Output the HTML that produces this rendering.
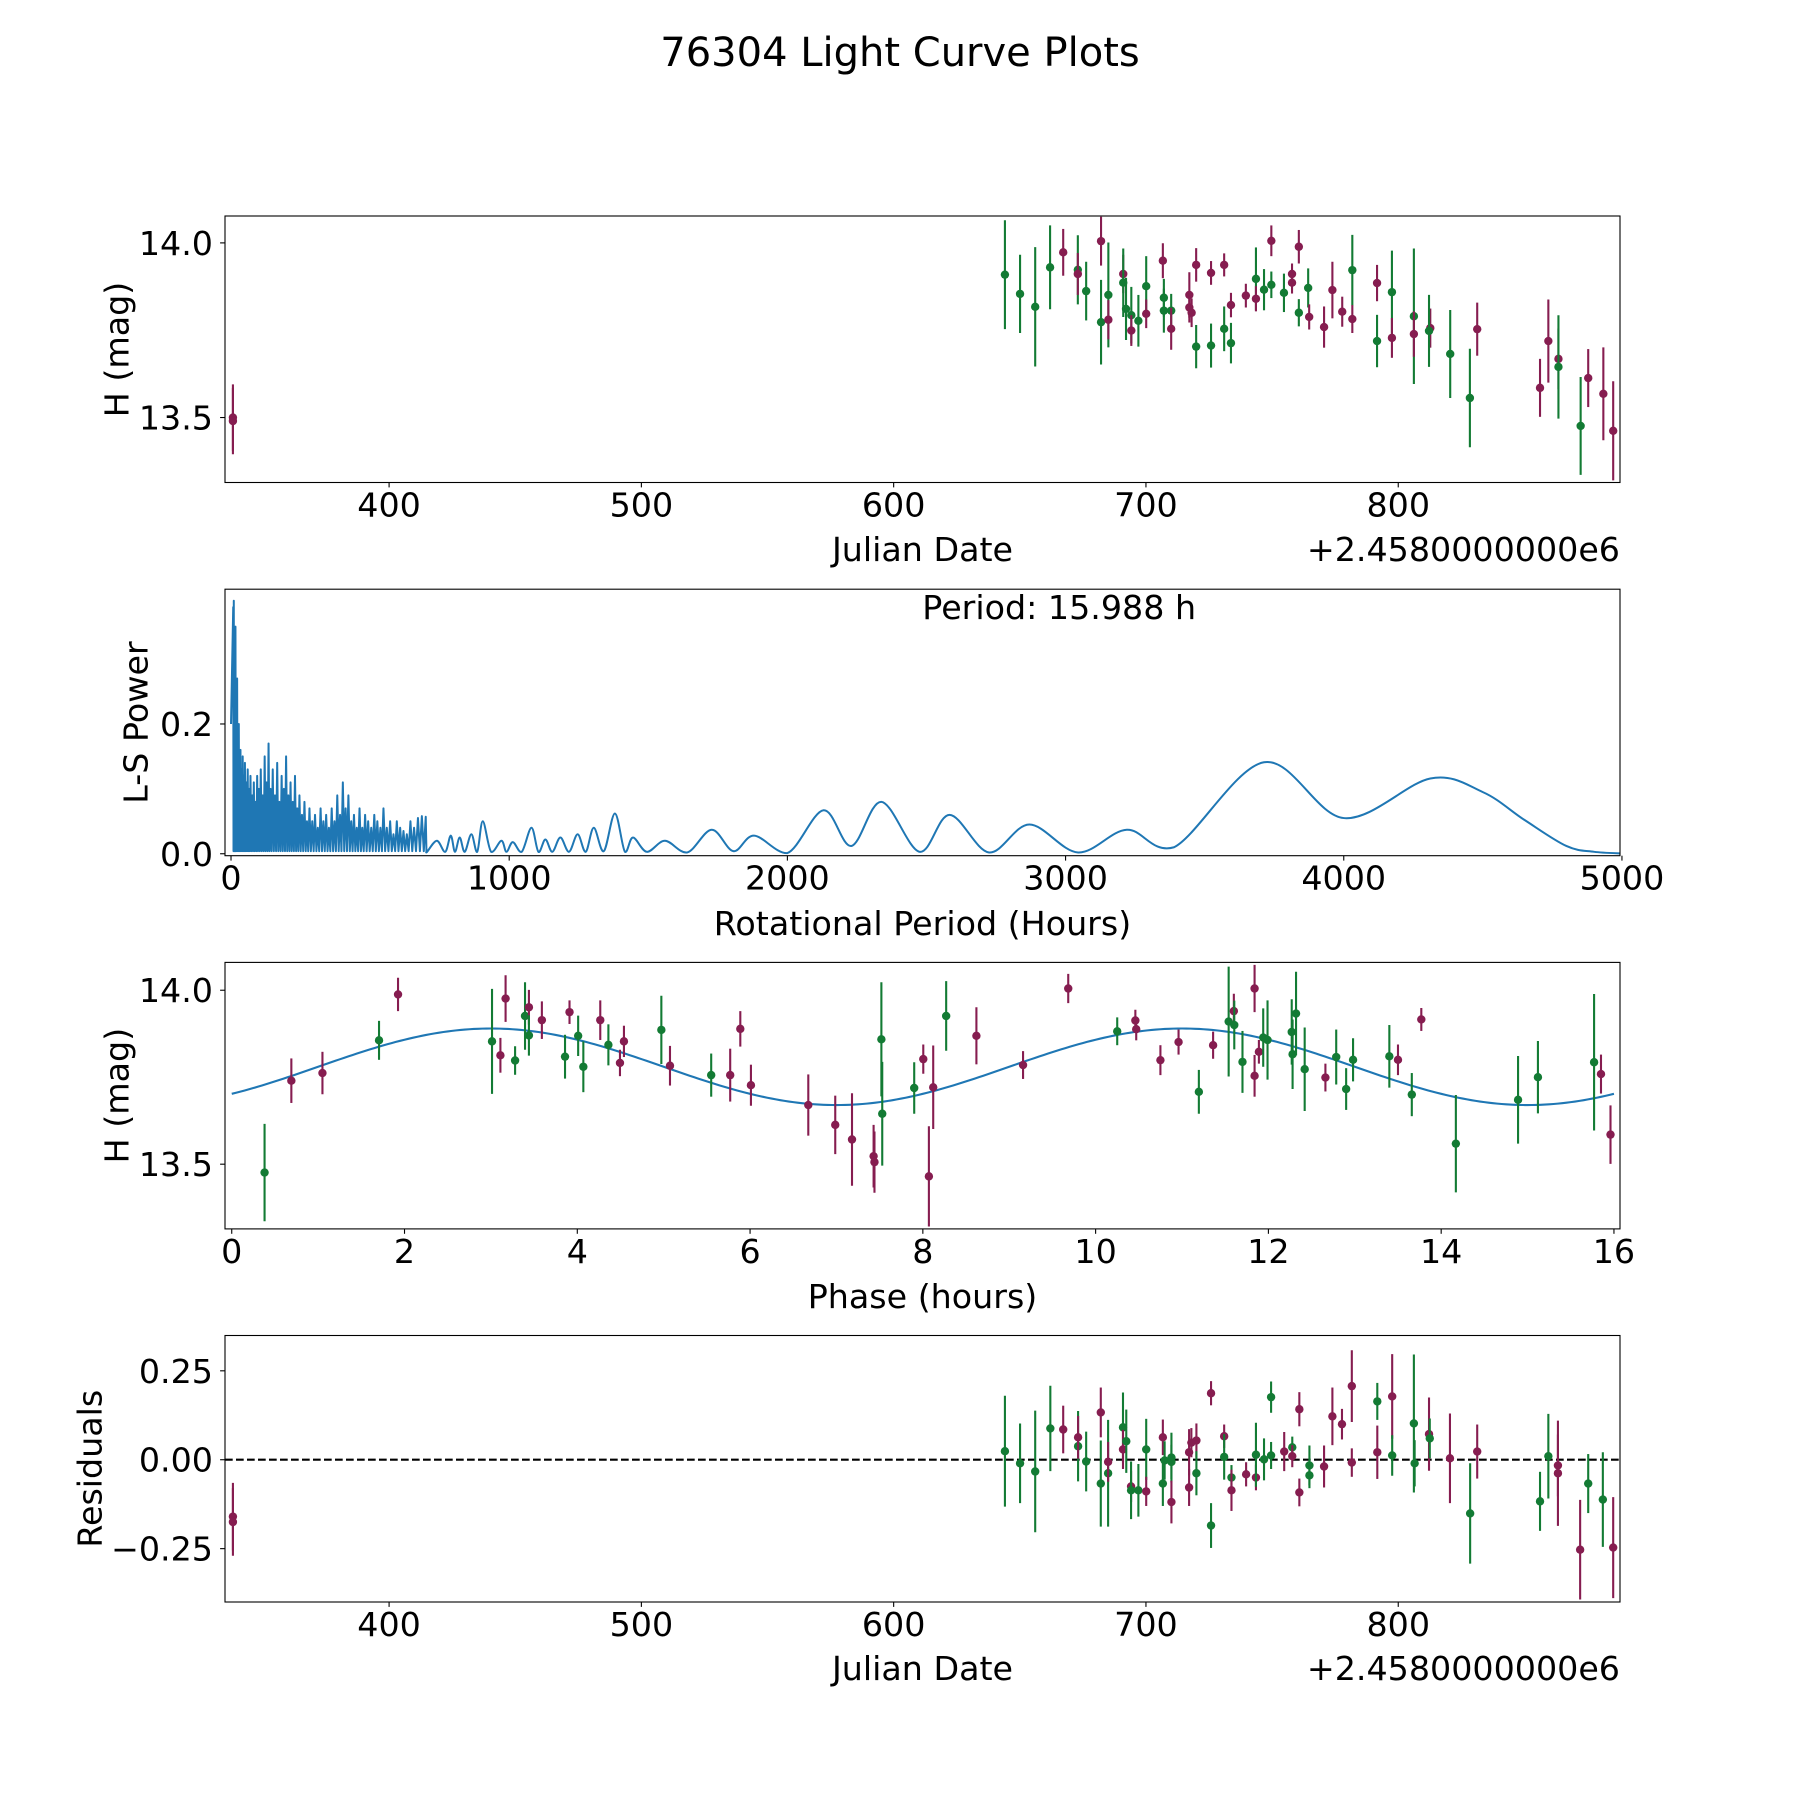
<!DOCTYPE html>
<html><head><meta charset="utf-8"><title>76304 Light Curve Plots</title>
<style>
html,body{margin:0;padding:0;background:#fff;}
svg{display:block;font-family:"DejaVu Sans","Liberation Sans",sans-serif;}
</style></head>
<body>
<svg id="fig" xmlns="http://www.w3.org/2000/svg" width="1800" height="1800" viewBox="0 0 1800 1800">
<rect x="0" y="0" width="1800" height="1800" fill="#fff"/>
<text x="900" y="66" font-size="40" text-anchor="middle" fill="#000">76304 Light Curve Plots</text>
</svg>
<script>
// ---------- Panel 1: light curve (Julian Date) ----------
const lcJD  = [338.1,338.1,644.1,650.1,656.1,662.0,667.2,673.0,673.0,676.3,682.2,682.2,685.1,685.1,691.0,691.0,692.1,694.2,694.2,697.0,700.1,700.1,706.7,707.1,707.1,710.0,710.0,717.2,717.2,718.1,719.9,719.9,725.8,725.8,731.0,731.0,733.7,733.7,739.6,743.6,743.6,746.8,749.7,749.7,754.7,757.9,757.9,760.6,760.6,764.3,764.7,770.6,773.9,777.8,781.8,781.8,791.6,791.6,797.5,797.5,806.2,806.2,812.7,812.2,820.6,828.4,831.3,856.2,859.5,863.5,863.5,872.3,875.3,881.3,885.2];
const lcMag = [13.500,13.490,13.909,13.854,13.817,13.930,13.973,13.923,13.911,13.862,14.005,13.773,13.851,13.780,13.911,13.886,13.811,13.793,13.749,13.777,13.876,13.797,13.949,13.843,13.806,13.806,13.754,13.851,13.815,13.800,13.937,13.703,13.914,13.706,13.937,13.754,13.822,13.713,13.849,13.897,13.840,13.866,14.006,13.880,13.857,13.911,13.886,13.989,13.800,13.871,13.788,13.759,13.865,13.803,13.922,13.782,13.885,13.719,13.859,13.728,13.790,13.739,13.756,13.748,13.682,13.556,13.753,13.585,13.719,13.668,13.645,13.476,13.613,13.568,13.462];
const lcErr = [0.095,0.095,0.156,0.112,0.171,0.120,0.067,0.099,0.060,0.084,0.070,0.121,0.150,0.056,0.055,0.098,0.089,0.081,0.044,0.074,0.086,0.041,0.050,0.054,0.063,0.048,0.060,0.065,0.043,0.041,0.048,0.062,0.034,0.063,0.033,0.064,0.035,0.058,0.034,0.090,0.036,0.059,0.044,0.038,0.055,0.030,0.031,0.048,0.039,0.056,0.036,0.059,0.081,0.043,0.101,0.040,0.052,0.075,0.119,0.057,0.194,0.065,0.056,0.103,0.126,0.141,0.076,0.083,0.119,0.087,0.148,0.140,0.083,0.133,0.142];
const lcCol = "PPGGGGPGPGPGGPPGGGPGGPPGGGPPPPPGPGPGPGPGPGPGGPPPGGPPPPGPPGGPGPPGGGPPPPGGPPP";

// ---------- Panel 2: Lomb-Scargle periodogram ----------
const lsSpikePeriod = [8,10,12,14,16,19,22,25,28,31,34,38,42,46,50,55,60,65,70,76,82,88,94,100,107,114,121,128,135,142,150,158,166,174,182,190,198,206,214,222,230,238,246,255,264,273,282,292,302,312,322,332,342,352,362,372,382,392,402,412,422,432,442,452,462,472,482,493,504,515,526,537,548,560,572,584,596,608,620,632,645,658,672,686,700];
const lsSpikePower  = [0.38,0.39,0.30,0.25,0.35,0.22,0.27,0.18,0.20,0.15,0.16,0.13,0.15,0.12,0.14,0.11,0.13,0.10,0.12,0.09,0.11,0.08,0.12,0.10,0.13,0.09,0.15,0.11,0.17,0.10,0.13,0.09,0.14,0.08,0.12,0.10,0.15,0.09,0.11,0.08,0.12,0.07,0.09,0.06,0.08,0.05,0.07,0.05,0.06,0.04,0.07,0.05,0.06,0.04,0.07,0.05,0.09,0.06,0.11,0.07,0.09,0.05,0.06,0.04,0.07,0.04,0.06,0.05,0.04,0.06,0.05,0.04,0.07,0.04,0.05,0.03,0.05,0.04,0.035,0.03,0.05,0.04,0.055,0.058,0.057];
const lsPeriod = [705,740,770,790,805,822,840,864,885,905,935,972,990,1013,1045,1080,1105,1130,1155,1184,1215,1246,1275,1304,1340,1380,1416,1445,1495,1560,1640,1728,1806,1880,2000,2130,2230,2338,2475,2583,2725,2870,3045,3220,3390,3713,4000,4311,4500,4650,4800,4900,5000];
const lsPower  = [0.003,0.02,0.003,0.028,0.003,0.025,0.003,0.03,0.003,0.05,0.003,0.02,0.003,0.018,0.003,0.04,0.003,0.022,0.003,0.025,0.003,0.03,0.003,0.04,0.004,0.062,0.003,0.025,0.003,0.02,0.002,0.037,0.004,0.028,0.001,0.067,0.012,0.08,0.003,0.06,0.002,0.045,0.002,0.037,0.01,0.141,0.055,0.116,0.095,0.052,0.012,0.003,0.0005];
const bestPeriod = "15.988";

// ---------- Panel 3: phased light curve ----------
const phPhase = [0.38,0.69,1.05,1.705,1.925,3.013,3.11,3.17,3.28,3.395,3.44,3.44,3.59,3.858,3.91,4.01,4.07,4.266,4.36,4.494,4.54,4.973,5.073,5.55,5.77,5.887,6.01,6.674,6.986,7.18,7.43,7.44,7.52,7.53,7.9,8.005,8.07,8.12,8.27,8.62,9.16,9.683,10.25,10.46,10.47,10.75,10.96,11.195,11.36,11.54,11.60,11.605,11.70,11.84,11.84,11.89,11.94,11.99,12.27,12.28,12.32,12.42,12.66,12.785,12.90,12.98,13.40,13.50,13.66,13.77,14.17,14.89,15.12,15.77,15.85,15.96];
const phMag = [13.476,13.740,13.762,13.856,13.988,13.853,13.813,13.976,13.798,13.926,13.951,13.870,13.914,13.809,13.937,13.869,13.780,13.914,13.843,13.791,13.853,13.886,13.783,13.756,13.756,13.889,13.727,13.670,13.613,13.571,13.523,13.506,13.859,13.645,13.719,13.802,13.465,13.721,13.926,13.869,13.785,14.005,13.882,13.913,13.888,13.799,13.851,13.708,13.842,13.910,13.940,13.900,13.794,14.005,13.754,13.823,13.864,13.857,13.880,13.816,13.933,13.773,13.749,13.808,13.716,13.800,13.810,13.800,13.700,13.916,13.559,13.685,13.750,13.793,13.759,13.585];
const phErr = [0.14,0.064,0.061,0.056,0.048,0.151,0.05,0.067,0.041,0.097,0.05,0.058,0.054,0.063,0.034,0.058,0.073,0.057,0.059,0.038,0.045,0.098,0.057,0.062,0.076,0.051,0.059,0.088,0.084,0.133,0.09,0.088,0.164,0.149,0.074,0.042,0.144,0.12,0.1,0.082,0.04,0.042,0.04,0.031,0.032,0.043,0.036,0.063,0.039,0.158,0.05,0.07,0.089,0.068,0.06,0.034,0.084,0.114,0.094,0.1,0.12,0.12,0.04,0.079,0.06,0.062,0.09,0.044,0.062,0.033,0.14,0.126,0.104,0.196,0.056,0.084];
const phCol = "GPPGPGPPGGPGPGPGGPGPPGPGPPPPPPPPGGGPPPGPPPGPPPPGPGPGGPPPGGGGGGPGGGGPGPGGGGPP";
const fitMean = 13.78, fitAmp = 0.11, fitPeakPhase = 3.0, fitHarmPeriod = 8.0;

// ---------- Panel 4: residuals ----------
const resJD  = [338.1,338.1,644.1,650.1,656.1,662.1,667.2,673.1,673.1,676.3,682.1,682.1,685.0,685.0,690.9,690.9,692.2,694.1,694.1,697.0,700.1,700.1,706.7,706.7,707.4,710.1,710.1,710.1,717.1,717.1,718.0,720.0,720.0,725.8,725.8,731.0,731.0,733.9,733.9,739.7,743.6,743.6,746.8,749.6,749.6,754.8,758.0,758.0,760.8,760.8,764.8,764.8,770.6,773.9,777.7,781.6,781.6,791.7,791.7,797.6,797.6,806.2,806.5,812.2,812.5,820.5,828.5,831.3,856.2,859.5,863.3,863.3,872.1,875.3,881.1,885.2];
const resVal = [-0.160,-0.175,0.024,-0.010,-0.033,0.088,0.085,0.038,0.063,-0.005,0.133,-0.067,-0.038,-0.006,0.091,0.029,0.052,-0.075,-0.086,-0.086,0.029,-0.089,0.063,-0.067,-0.002,0.006,-0.006,-0.119,0.021,-0.078,0.048,0.054,-0.038,0.187,-0.185,0.066,0.008,-0.050,-0.086,-0.041,-0.050,0.014,0.001,0.012,0.176,0.023,0.035,0.010,0.142,-0.092,-0.016,-0.044,-0.019,0.122,0.100,0.207,-0.008,0.164,0.021,0.178,0.012,0.102,-0.010,0.072,0.060,0.004,-0.151,0.023,-0.117,0.010,-0.016,-0.038,-0.253,-0.067,-0.112,-0.247];
const resErr = [0.095,0.095,0.156,0.112,0.171,0.120,0.067,0.099,0.060,0.084,0.070,0.121,0.150,0.056,0.098,0.055,0.089,0.044,0.081,0.074,0.086,0.041,0.050,0.063,0.054,0.070,0.048,0.060,0.065,0.052,0.041,0.048,0.062,0.034,0.063,0.033,0.064,0.035,0.058,0.034,0.036,0.090,0.059,0.038,0.044,0.055,0.030,0.031,0.048,0.039,0.056,0.036,0.059,0.081,0.043,0.101,0.040,0.052,0.075,0.119,0.057,0.194,0.065,0.103,0.056,0.126,0.141,0.076,0.083,0.119,0.087,0.148,0.140,0.083,0.133,0.142];
const resCol = "PPGGGGPGPGPGGPGPGPGGGPPGGGGPPPPPGPGPGGPPPGGGGPGPPPGGPPPPPGPPGGGPGPGPGGPPPGGPPP";

const jdTicks = [400,500,600,700,800];
const lsTicksX = [0,1000,2000,3000,4000,5000];
const lsTicksY = [0.0,0.2];
const magTicks = [13.5,14.0];
const phTicks = [0,2,4,6,8,10,12,14,16];
const resTicks = [-0.25,0.00,0.25];

const NS = "http://www.w3.org/2000/svg";
const svg = document.getElementById('fig');
const PURPLE = "#861d50", GREEN = "#137b34", BLUE = "#1f77b4";
const L = 225, R = 1620, H = 266.5;
function el(tag, attrs, parent) {
  const e = document.createElementNS(NS, tag);
  for (const k in attrs) e.setAttribute(k, attrs[k]);
  (parent || svg).appendChild(e);
  return e;
}
function lin(d0, d1, p0, p1) { return v => p0 + (v - d0) * (p1 - p0) / (d1 - d0); }

function makeAxes(name, top, xlim, ylim) {
  const g = el('g', {});
  
  
  const cid = 'clip-' + name;
  const cp = el('clipPath', {id: cid}, g);
  el('rect', {x: L, y: top, width: R - L, height: H}, cp);
  const plot = el('g', {'clip-path': 'url(#' + cid + ')'}, g);
  
  
  return {g, plot, top, bottom: top + H, x: lin(xlim[0], xlim[1], L, R), y: lin(ylim[0], ylim[1], top + H, top)};
}
function frame(ax) {
  const f = el('rect', {x: L, y: ax.top, width: R - L, height: H, fill: 'none', stroke: '#000', 'stroke-width': 1.1}, ax.g);
  
  
}
function xTicks(ax, ticks, fmt) {
  ticks.forEach(t => {
    const px = ax.x(t);
    el('line', {x1: px, x2: px, y1: ax.bottom, y2: ax.bottom + 4.9, stroke: '#000', 'stroke-width': 1.1}, ax.g);
    const tx = el('text', {x: px, y: ax.bottom + 34, 'font-size': 33.3, 'text-anchor': 'middle'}, ax.g);
    
    
    tx.textContent = fmt(t);
  });
}
function yTicks(ax, ticks, fmt) {
  ticks.forEach(t => {
    const py = ax.y(t);
    el('line', {x1: L - 4.9, x2: L, y1: py, y2: py, stroke: '#000', 'stroke-width': 1.1}, ax.g);
    const tx = el('text', {x: 213, y: py + 12, 'font-size': 33.3, 'text-anchor': 'end'}, ax.g);
    
    
    tx.textContent = fmt(t);
  });
}
function label(ax, text, x, y, rot, name, anchor) {
  const t = el('text', {x, y, 'font-size': 33.3, 'text-anchor': anchor || 'middle'}, ax.g);
  if (rot) { t.setAttribute('transform', 'rotate(-90 ' + x + ' ' + y + ')'); t.setAttribute('dominant-baseline', 'central'); }
  
  
  t.textContent = text;
}
function errPoints(ax, xs, ys, es, cols, name) {
  for (let i = 0; i < xs.length; i++) {
    const c = cols[i] === 'P' ? PURPLE : GREEN;
    const px = ax.x(xs[i]);
    const b = el('line', {x1: px, x2: px, y1: ax.y(ys[i] - es[i]), y2: ax.y(ys[i] + es[i]), stroke: c, 'stroke-width': 2.1}, ax.plot);
    
    
    const m = el('circle', {cx: px, cy: ax.y(ys[i]), r: 4.2, fill: c}, ax.plot);
    
    
  }
}
const fmt1 = v => v.toFixed(1);
const fmt2 = v => (v < 0 ? '\u2212' : '') + Math.abs(v).toFixed(2);

// Panel 1
const a1 = makeAxes('light-curve-axes', 216, [334.96, 887.9], [13.314, 14.077]);
errPoints(a1, lcJD, lcMag, lcErr, lcCol, 'light-curve');
frame(a1); xTicks(a1, jdTicks, String); yTicks(a1, magTicks, fmt1);
label(a1, 'Julian Date', 922.5, 561, false, 'x-axis-title');
label(a1, '+2.4580000000e6', 1620, 561, false, 'x-axis-offset', 'end');
label(a1, 'H (mag)', 117, 349.5, true, 'y-axis-title');

// Panel 2
const a2 = makeAxes('periodogram-axes', 589.2, [-21.6, 4993], [-0.003, 0.4077]);
(function () {
  const pts = [];
  for (let i = 0; i < lsSpikePeriod.length; i++) {
    pts.push([lsSpikePeriod[i], lsSpikePower[i]]);
    const next = i + 1 < lsSpikePeriod.length ? lsSpikePeriod[i + 1] : lsPeriod[0];
    pts.push([(lsSpikePeriod[i] + next) / 2, 0.004]);
  }
  const dense = pts.map(p => [a2.x(p[0]), a2.y(p[1])]);
  let d = 'M' + a2.x(0) + ',' + a2.y(0.2) + ' L' + dense.map(p => p[0].toFixed(2) + ',' + p[1].toFixed(2)).join(' L');
  const sp = [dense[dense.length - 1]].concat(lsPeriod.map((p, i) => [a2.x(p), a2.y(lsPower[i])]));
  for (let i = 0; i < sp.length - 1; i++) {
    const p0 = sp[Math.max(0, i - 1)], p1 = sp[i], p2 = sp[i + 1], p3 = sp[Math.min(sp.length - 1, i + 2)];
    const t = 6;
    const c1 = [p1[0] + (p2[0] - p0[0]) / t, p1[1] + (p2[1] - p0[1]) / t];
    const c2 = [p2[0] - (p3[0] - p1[0]) / t, p2[1] - (p3[1] - p1[1]) / t];
    c1[1] = Math.min(c1[1], a2.y(0)); c2[1] = Math.min(c2[1], a2.y(0));
    d += ' C' + c1.join(',') + ' ' + c2.join(',') + ' ' + p2.join(',');
  }
  const path = el('path', {d, fill: 'none', stroke: BLUE, 'stroke-width': 2, 'stroke-linejoin': 'round'}, a2.plot);
  
  
})();
frame(a2); xTicks(a2, lsTicksX, String); yTicks(a2, lsTicksY, fmt1);
label(a2, 'Rotational Period (Hours)', 922.5, 935, false, 'x-axis-title');
label(a2, 'L-S Power', 136, 722.5, true, 'y-axis-title');
label(a2, 'Period: ' + bestPeriod + ' h', a2.x(2485), 619, false, 'period-annotation', 'start');

// Panel 3
const a3 = makeAxes('phase-curve-axes', 962.4, [-0.078, 16.07], [13.314, 14.08]);
(function () {
  let d = '';
  for (let i = 0; i <= 320; i++) {
    const p = 16 * i / 320;
    const m = fitMean + fitAmp * Math.cos(2 * Math.PI * (p - fitPeakPhase) / fitHarmPeriod);
    d += (i ? ' L' : 'M') + a3.x(p).toFixed(2) + ',' + a3.y(m).toFixed(2);
  }
  const path = el('path', {d, fill: 'none', stroke: BLUE, 'stroke-width': 2.1}, a3.plot);
  
  
})();
errPoints(a3, phPhase, phMag, phErr, phCol, 'phased');
frame(a3); xTicks(a3, phTicks, String); yTicks(a3, magTicks, fmt1);
label(a3, 'Phase (hours)', 922.5, 1308, false, 'x-axis-title');
label(a3, 'H (mag)', 117, 1095.6, true, 'y-axis-title');

// Panel 4
const a4 = makeAxes('residuals-axes', 1335.5, [334.96, 887.9], [-0.4, 0.3493]);
(function () {
  const z = el('line', {x1: L, x2: R, y1: a4.y(0), y2: a4.y(0), stroke: '#000', 'stroke-width': 2.1, 'stroke-dasharray': '7.7,3.3'}, a4.plot);
  
  
})();
errPoints(a4, resJD, resVal, resErr, resCol, 'residual');
frame(a4); xTicks(a4, jdTicks, String); yTicks(a4, resTicks, fmt2);
label(a4, 'Julian Date', 922.5, 1680, false, 'x-axis-title');
label(a4, '+2.4580000000e6', 1620, 1680, false, 'x-axis-offset', 'end');
label(a4, 'Residuals', 90, 1468.7, true, 'y-axis-title');
</script>
</body></html>
